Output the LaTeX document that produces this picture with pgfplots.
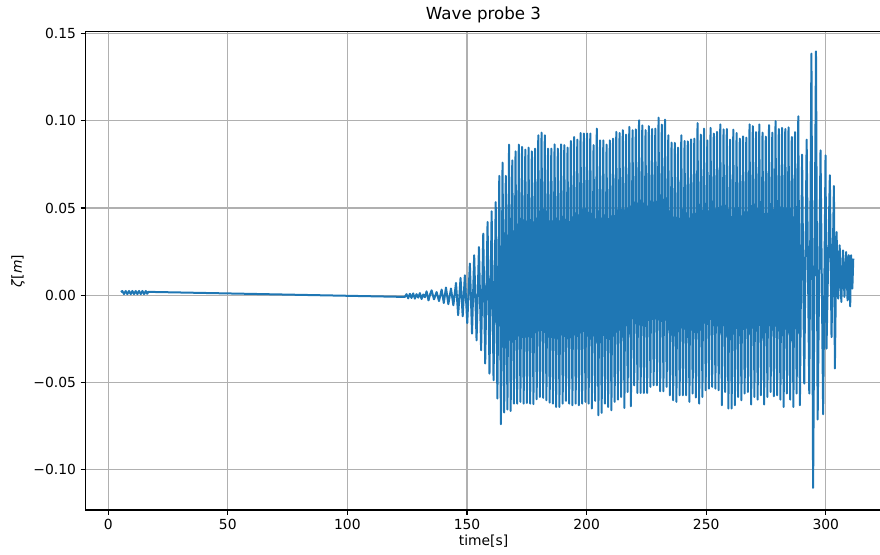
\documentclass[border=0pt]{standalone}
\usepackage{fontspec}
\setmainfont{DejaVu Sans}
\usepackage{pgfplots}
\pgfplotsset{compat=1.18}
\definecolor{mplblue}{HTML}{1F77B4}
\definecolor{mplgrid}{HTML}{B0B0B0}

\begin{document}
\begin{tikzpicture}
\begin{axis}[
  scale only axis,
  width=597pt, height=358.6pt,
  xmin=-9.5, xmax=323.3,
  ymin=-0.1232, ymax=0.1510,
  xtick={0,50,100,150,200,250,300},
  xticklabels={0,50,100,150,200,250,300},
  ytick={-0.10,-0.05,0,0.05,0.10,0.15},
  yticklabels={−0.10,−0.05,0.00,0.05,0.10,0.15},
  tick align=outside,
  xtick pos=lower, ytick pos=left,
  major tick length=3.6pt,
  tick style={black, line width=0.8pt},
  grid=major,
  grid style={mplgrid, line width=0.8pt},
  axis line style={black, line width=0.8pt},
  ticklabel style={font=\fontsize{10.4}{12}\selectfont},
  title={Wave probe 3},
  every axis title/.style={font=\fontsize{12.5}{14}\selectfont, at={(axis description cs:0.5,1.0358)}, anchor=center},
  xlabel={time[s]},
  xlabel style={font=\fontsize{10.4}{12}\selectfont, at={(axis description cs:0.5,-0.0648)}, anchor=center},
  ylabel={\textit{ζ}[\textit{m}]},
  ylabel style={font=\fontsize{10.4}{12}\selectfont, at={(axis description cs:-0.0848,0.5)}, anchor=center},
]
\addplot[mplblue, line width=1.5pt, line join=round] table[row sep=\\] {
t z\\
5.3 0.0018\\ 5.9 0.0024\\ 6.6 0.0006\\ 7.3 0.0024\\ 8.0 0.0006\\ 8.7 0.0024\\
9.4 0.0006\\ 10.1 0.0024\\ 10.8 0.0006\\ 11.5 0.0024\\ 12.2 0.0006\\ 12.9 0.0024\\
13.6 0.0006\\ 14.3 0.0024\\ 15.0 0.0006\\ 15.7 0.0024\\ 16.3 0.0008\\ 16.8 0.0019\\
124.0 -0.0010\\ 124.7 0.0006\\ 125.4 -0.0018\\ 126.1 0.0008\\ 126.8 -0.0016\\
127.5 0.0010\\ 128.2 -0.0020\\ 128.9 0.0006\\ 129.6 -0.0014\\ 130.3 0.0012\\
131.0 -0.0022\\ 131.7 0.0004\\ 132.4 -0.0012\\ 133.1 0.0022\\ 133.9 -0.0030\\
134.6 0.0006\\ 135.2 0.0028\\ 136.2 -0.0024\\ 137.3 0.0018\\ 138.3 -0.0034\\
139.4 0.0032\\ 140.3 -0.0045\\ 141.2 0.0044\\ 142.2 -0.0052\\ 143.3 0.0038\\
144.3 -0.0058\\ 145.4 0.0070\\ 146.3 -0.0115\\ 147.3 0.0099\\ 148.2 -0.0121\\
149.1 0.0114\\ 150.1 -0.0160\\ 151.2 0.0181\\ 152.1 -0.0220\\ 153.0 0.0229\\
154.0 -0.0259\\ 155.0 0.0276\\ 155.9 -0.0316\\ 156.8 0.0353\\ 157.6 -0.0392\\
158.6 0.0420\\ 159.4 -0.0450\\ 160.3 0.0481\\ 161.1 -0.0488\\ 162.0 0.0534\\
162.7 -0.0593\\
163.50 0.0684\\ 164.18 -0.0740\\ 164.86 0.0760\\ 165.54 -0.0673\\ 166.22 0.0684\\
166.90 -0.0656\\ 167.58 0.0863\\ 168.26 -0.0664\\ 168.93 0.0773\\ 169.61 -0.0622\\
170.29 0.0825\\ 170.97 -0.0622\\ 171.65 0.0863\\ 172.33 -0.0612\\ 173.01 0.0850\\
173.69 -0.0622\\ 174.37 0.0835\\ 175.05 -0.0618\\ 175.73 0.0846\\ 176.41 -0.0622\\
177.09 0.0825\\ 177.77 -0.0625\\ 178.45 0.0840\\ 179.13 -0.0597\\ 179.80 0.0917\\
180.48 -0.0584\\ 181.16 0.0932\\ 181.84 -0.0589\\ 182.52 0.0917\\ 183.20 -0.0603\\
183.88 0.0840\\ 184.56 -0.0616\\ 185.24 0.0840\\ 185.92 -0.0622\\ 186.60 0.0865\\
187.28 -0.0641\\ 187.96 0.0840\\ 188.64 -0.0641\\ 189.32 0.0865\\ 190.00 -0.0622\\
190.67 0.0860\\ 191.35 -0.0606\\ 192.03 0.0846\\ 192.71 -0.0622\\ 193.39 0.0884\\
194.07 -0.0631\\ 194.75 0.0907\\ 195.43 -0.0622\\ 196.11 0.0892\\ 196.79 -0.0631\\
197.47 0.0930\\ 198.15 -0.0622\\ 198.83 0.0927\\ 199.51 -0.0612\\ 200.18 0.0927\\
200.86 -0.0622\\ 201.54 0.0927\\ 202.22 -0.0650\\ 202.90 0.0860\\ 203.58 -0.0606\\
204.26 0.0955\\ 204.94 -0.0689\\ 205.62 0.0888\\ 206.30 -0.0675\\ 206.98 0.0888\\
207.66 -0.0622\\ 208.34 0.0863\\ 209.02 -0.0641\\ 209.70 0.0888\\ 210.38 -0.0660\\
211.05 0.0898\\ 211.73 -0.0612\\ 212.41 0.0936\\ 213.09 -0.0599\\ 213.77 0.0930\\
214.45 -0.0584\\ 215.13 0.0946\\ 215.81 -0.0647\\ 216.49 0.0921\\ 217.17 -0.0555\\
217.85 0.0965\\ 218.53 -0.0637\\ 219.21 0.0946\\ 219.89 -0.0517\\ 220.57 0.0951\\
221.25 -0.0561\\ 221.92 0.1003\\ 222.60 -0.0561\\ 223.28 0.0974\\ 223.96 -0.0561\\
224.64 0.0946\\ 225.32 -0.0561\\ 226.00 0.0969\\ 226.68 -0.0526\\ 227.36 0.0953\\
228.04 -0.0517\\ 228.72 0.0955\\ 229.40 -0.0517\\ 230.08 0.1018\\ 230.76 -0.0551\\
231.44 0.0978\\ 232.12 -0.0551\\ 232.79 0.1007\\ 233.47 -0.0526\\ 234.15 0.0917\\
234.83 -0.0574\\ 235.51 0.0875\\ 236.19 -0.0603\\ 236.87 0.0873\\ 237.55 -0.0612\\
238.23 0.0846\\ 238.91 -0.0574\\ 239.59 0.0917\\ 240.27 -0.0574\\ 240.95 0.0884\\
241.63 -0.0574\\ 242.30 0.0882\\ 242.98 -0.0612\\ 243.66 0.0894\\ 244.34 -0.0564\\
245.02 0.0898\\ 245.70 -0.0587\\ 246.38 0.0987\\ 247.06 -0.0622\\ 247.74 0.0921\\
248.42 -0.0584\\ 249.10 0.0955\\ 249.78 -0.0545\\ 250.46 0.0888\\ 251.14 -0.0536\\
251.82 0.0959\\ 252.50 -0.0526\\ 253.17 0.0927\\ 253.85 -0.0536\\ 254.53 0.0936\\
255.21 -0.0545\\ 255.89 0.0980\\ 256.57 -0.0631\\ 257.25 0.0951\\ 257.93 -0.0555\\
258.61 0.0953\\ 259.29 -0.0650\\ 259.97 0.0892\\ 260.65 -0.0650\\ 261.33 0.0949\\
262.01 -0.0631\\ 262.69 0.0930\\ 263.37 -0.0584\\ 264.04 0.0898\\ 264.72 -0.0603\\
265.40 0.0911\\ 266.08 -0.0564\\ 266.76 0.0903\\ 267.44 -0.0555\\ 268.12 0.0980\\
268.80 -0.0627\\ 269.48 0.0969\\ 270.16 -0.0584\\ 270.84 0.0935\\ 271.52 -0.0599\\
272.20 0.0979\\ 272.88 -0.0574\\ 273.55 0.0932\\ 274.23 -0.0627\\ 274.91 0.0909\\
275.59 -0.0584\\ 276.27 0.0975\\ 276.95 -0.0555\\ 277.63 0.0932\\ 278.31 -0.0580\\
278.99 0.0998\\ 279.67 -0.0574\\ 280.35 0.0953\\ 281.03 -0.0599\\ 281.71 0.0959\\
282.39 -0.0641\\ 283.06 0.0953\\ 283.74 -0.0564\\ 284.42 0.0962\\ 285.10 -0.0599\\
285.78 0.0907\\ 286.46 -0.0641\\ 287.14 0.0935\\ 287.82 -0.0564\\ 288.50 0.1026\\
289.18 -0.0631\\ 290.1 0.0806\\ 291.0 -0.0507\\ 292.0 0.0892\\ 293.1 -0.0564\\
294.0 0.1385\\ 294.7 -0.1105\\ 295.9 0.1398\\ 296.6 -0.0713\\ 297.8 0.0830\\
298.9 -0.0683\\ 299.9 0.0802\\ 300.3 -0.0306\\ 301.7 0.0688\\ 302.4 -0.0240\\
303.4 0.0626\\ 303.8 -0.0420\\ 304.5 0.0362\\ 305.2 -0.0020\\ 305.8 0.0286\\
306.5 -0.0039\\ 307.2 0.0257\\ 307.8 -0.0010\\ 308.5 0.0248\\ 309.1 -0.0030\\
309.6 0.0229\\ 310.2 -0.0064\\ 310.6 0.0229\\ 311.1 0.0038\\ 311.5 0.0210\\
};
\end{axis}
% page frame: cut at the right so that the right spine falls outside
\pgfresetboundingbox
\path[use as bounding box]
  ([shift={(-64.125pt,-33pt)}]current axis.south west)
  rectangle ([shift={(595.875pt,382.5pt)}]current axis.south west);
\end{tikzpicture}
\end{document}
